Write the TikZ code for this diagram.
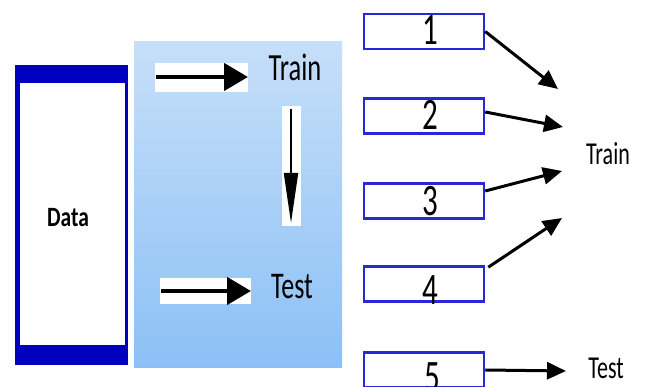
\documentclass[tikz,border=0pt]{standalone}
\usepackage{fontspec}
\setmainfont{Carlito}
\usepackage{tikz}
\usetikzlibrary{arrows.meta}

\definecolor{darkblue}{RGB}{0,0,192}
\definecolor{foldblue}{RGB}{40,40,215}
\definecolor{paneltop}{RGB}{198,223,249}
\definecolor{panelbot}{RGB}{140,192,245}

\newcommand{\tallt}[2][1.45]{\scalebox{1}[#1]{#2}}

\begin{document}
\begin{tikzpicture}[x=1pt, y=1pt,
	fold/.style={draw=foldblue, line width=2.5pt, fill=white, minimum width=120pt, minimum height=35pt, inner sep=0pt},
	digit/.style={font=\fontsize{31}{32}\selectfont},
	lbl/.style={font=\fontsize{22}{24}\selectfont, inner sep=0pt},
	bigarrow/.style={line width=4.5pt, -{Triangle[length=24pt, width=27pt]}},
	thinarrow/.style={line width=3pt, -{Triangle[length=19pt, width=17pt]}}]
	\useasboundingbox (0,0) rectangle (646,387);

	% data column
	\fill [darkblue] (15,22) rectangle (128,322);
	\fill [white] (20,42) rectangle (125,304);
	\node [inner sep=0pt, font=\fontsize{21.5}{24}\selectfont\bfseries] (data) at (68,169) {\tallt[1.3]{Data}};

	% split panel
	\shade [top color=paneltop, bottom color=panelbot] (134,19) rectangle (342,345);
	\fill [white] (155,295) rectangle (248,324);
	\fill [white] (282,161) rectangle (301,281);
	\fill [white] (160,83) rectangle (251,109);
	\node [lbl, font=\fontsize{26.5}{28}\selectfont] (train) at (295,320) {\tallt{Train}};
	\node [lbl, font=\fontsize{26}{28}\selectfont] (test) at (292,100) {\tallt{Test}};
	\coordinate (s1) at (156,310);
	\coordinate (e1) at (248,310);
	\coordinate (s2) at (161,96);
	\coordinate (e2) at (251,96);
	\draw [bigarrow] (s1) -- (e1);
	\draw [bigarrow] (s2) -- (e2);
	\draw [line width=2pt, -{Triangle[length=50pt, width=14pt]}] (291,278) coordinate (d1) -- (291,164) coordinate (d2);

	% folds
	\node [fold] (b1) at (424,355.5) {};
	\node [fold] (b2) at (424,271) {};
	\node [fold] (b3) at (424,186) {};
	\node [fold] (b4) at (424,103) {};
	\node [fold] (b5) at (424,17) {};
	\node [digit] at (430,357) {\tallt{1}};
	\node [digit] at (430,272) {\tallt{2}};
	\node [digit] at (430,186) {\tallt{3}};
	\node [digit] at (430,97) {\tallt{4}};
	\node [digit] at (432,10) {\tallt{5}};

	% right labels
	\node [lbl] (rtrain) at (608,233) {\tallt{Train}};
	\node [lbl] (rtest) at (606,19) {\tallt{Test}};

	\coordinate (t1) at (558,298);
	\coordinate (t2) at (563,260);
	\coordinate (t3) at (562,216);
	\coordinate (t4) at (562,169);
	\coordinate (t5) at (566,16);
	\draw [thinarrow] (b1.east) -- (t1);
	\draw [thinarrow] ([yshift=4pt]b2.east) -- (t2);
	\draw [thinarrow] ([yshift=10pt]b3.east) -- (t3);
	\draw [thinarrow] ([xshift=3pt,yshift=-2pt]b4.north east) -- (t4);
	\draw [thinarrow] (b5.east) -- (t5);
\end{tikzpicture}
\end{document}
